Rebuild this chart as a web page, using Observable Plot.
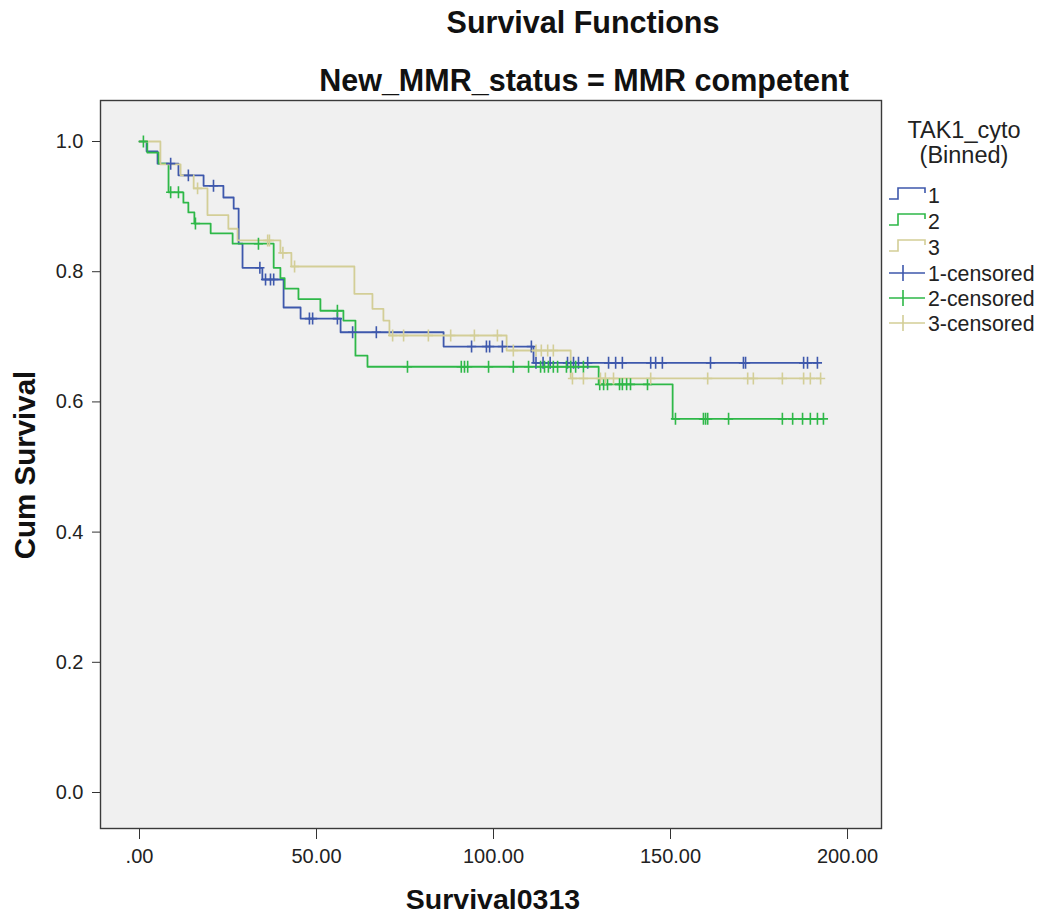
<!DOCTYPE html>
<html>
<head>
<meta charset="utf-8">
<script src="https://cdn.jsdelivr.net/npm/d3@7"></script>
<script src="https://cdn.jsdelivr.net/npm/@observablehq/plot@0.6"></script>
<style>
  html, body { margin: 0; padding: 0; background: #ffffff; }
  #wrap { position: relative; width: 1044px; height: 916px; overflow: hidden; }
  #wrap svg { position: absolute; left: 0; top: 0; }
</style>
</head>
<body>
<div id="wrap"></div>
<script>
// ---------- Data ----------
const groups = ["1", "2", "3"];
const groupColors = ["#3e58ac", "#2eb848", "#d3ce97"];

// Group 1 (blue): step times and survival after each step
const times1 = [0, 2.0, 5.1, 11.0, 18.1, 23.7, 26.6, 28.0, 29.1, 34.7, 40.7, 45.5, 56.8, 85.9, 111.3];
const surv1  = [1.0, 0.985, 0.966, 0.948, 0.932, 0.914, 0.897, 0.843, 0.806, 0.788, 0.745, 0.728, 0.707, 0.685, 0.660];
const end1 = 191.5;
const censored1 = [8.8, 13.8, 20.9, 34.0, 35.6, 37.0, 37.9, 48.0, 48.9, 55.9, 60.2, 66.9, 93.8, 98.0, 98.9, 102.5, 110.7,
  112.0, 114.0, 116.0, 120.9, 122.6, 124.0, 126.6, 132.5, 134.5, 136.4, 144.4, 145.8, 147.7, 161.3, 170.6, 171.2,
  187.6, 188.7, 191.5];

// Group 2 (green)
const times2 = [0, 2.2, 5.4, 8.2, 12.4, 13.8, 15.5, 20.1, 26.3, 37.9, 39.8, 41.0, 44.9, 51.1, 57.6, 61.0, 64.4, 129.7, 150.6];
const surv2  = [1.0, 0.983, 0.966, 0.922, 0.906, 0.891, 0.874, 0.859, 0.843, 0.806, 0.790, 0.774, 0.758, 0.740, 0.725, 0.671, 0.654, 0.627, 0.574];
const end2 = 193.2;
const censored2 = [1.1, 8.8, 11.0, 15.8, 33.6, 55.9, 75.7, 90.9, 91.8, 92.7, 98.6, 105.6, 109.9, 113.3, 114.4, 115.5,
  116.9, 118.1, 120.6, 121.8, 123.2, 125.4, 130.0, 131.1, 132.2, 135.6, 136.4, 137.6, 138.7, 143.5, 151.4, 159.3,
  159.9, 160.5, 166.4, 181.6, 184.5, 187.3, 189.5, 191.5, 193.2];

// Group 3 (tan)
const times3 = [0, 5.9, 11.6, 15.3, 19.2, 25.1, 27.7, 39.8, 42.9, 60.7, 65.8, 68.9, 70.6, 103.7, 121.8];
const surv3  = [1.0, 0.965, 0.948, 0.928, 0.887, 0.866, 0.848, 0.829, 0.808, 0.766, 0.743, 0.725, 0.702, 0.679, 0.636];
const end3 = 192.4;
const censored3 = [16.4, 36.2, 36.7, 40.5, 43.8, 71.5, 74.6, 81.6, 87.9, 94.6, 101.1, 105.6, 112.0, 113.5, 115.3,
  116.9, 122.3, 125.4, 130.2, 131.6, 133.9, 144.4, 160.5, 171.8, 173.4, 181.6, 187.6, 189.5, 192.4];

const xTicks = [0, 50, 100, 150, 200];
const yTicks = [0, 0.2, 0.4, 0.6, 0.8, 1.0];
const legendTitle = ["TAK1_cyto", "(Binned)"];
const legendLabels = ["1", "2", "3", "1-censored", "2-censored", "3-censored"];
const titleText = "Survival Functions";
const subtitleText = "New_MMR_status = MMR competent";
const xTitle = "Survival0313";
const yTitle = "Cum Survival";

// ---------- Build tables ----------
const series = [
  {g: "1", times: times1, surv: surv1, end: end1, cens: censored1},
  {g: "2", times: times2, surv: surv2, end: end2, cens: censored2},
  {g: "3", times: times3, surv: surv3, end: end3, cens: censored3}
];
function survAt(s, t) {
  let v = s.surv[0];
  for (let i = 0; i < s.times.length; i++) if (s.times[i] <= t) v = s.surv[i];
  return v;
}
const lineData = [];
const censData = [];
for (const s of series) {
  s.times.forEach((t, i) => lineData.push({g: s.g, t, s: s.surv[i]}));
  lineData.push({g: s.g, t: s.end, s: s.surv[s.surv.length - 1]});
  s.cens.forEach(t => censData.push({g: s.g, t, s: survAt(s, t)}));
}

// custom "+" symbol (thin cross like SPSS censor marks)
const crossSymbol = {
  draw(ctx, size) {
    const r = Math.sqrt(size / Math.PI);
    ctx.moveTo(-r, 0); ctx.lineTo(r, 0);
    ctx.moveTo(0, -r * 1.3); ctx.lineTo(0, r * 1.3);
  }
};

const FONT = "'Liberation Sans', Arial, sans-serif";
const fmtX = d => d === 0 ? ".00" : d.toFixed(2);

const chart = Plot.plot({
  width: 1044,
  height: 916,
  marginLeft: 100,
  marginRight: 163,
  marginTop: 100,
  marginBottom: 88,
  style: {fontFamily: FONT, background: "transparent", color: "#222"},
  x: {domain: [-11.02, 209.6]},
  y: {domain: [-0.0553, 1.063]},
  color: {domain: groups, range: groupColors},
  marks: [
    Plot.frame({fill: "#f0f0f0", stroke: null}),
    Plot.axisX({ticks: xTicks, tickFormat: fmtX, tickSize: 11, tickPadding: 9, fontSize: 20, label: null, stroke: "#333"}),
    Plot.axisY({ticks: yTicks, tickFormat: d => d.toFixed(1), tickSize: 8, tickPadding: 9, fontSize: 20, label: null, stroke: "#333"}),
    Plot.line(lineData, {x: "t", y: "s", z: "g", stroke: "g", curve: "step-after", strokeWidth: 1.8}),
    Plot.dot(censData, {x: "t", y: "s", stroke: "g", fill: "none", symbol: crossSymbol, r: 4.6, strokeWidth: 1.6}),
    Plot.frame({stroke: "#3a3a3a", strokeWidth: 1.4})
  ]
});
document.getElementById("wrap").appendChild(chart);

// ---------- Titles, axis titles and legend (overlay) ----------
const ov = d3.select("#wrap").append("svg")
  .attr("width", 1044).attr("height", 916)
  .style("pointer-events", "none")
  .style("font-family", FONT);

ov.append("text").attr("x", 583).attr("y", 33).attr("text-anchor", "middle")
  .attr("font-size", 30.5).attr("font-weight", "bold").attr("fill", "#111").text(titleText);
ov.append("text").attr("x", 584).attr("y", 91).attr("text-anchor", "middle")
  .attr("font-size", 30.5).attr("font-weight", "bold").attr("fill", "#111").text(subtitleText);
ov.append("text").attr("transform", "translate(35,465) rotate(-90)").attr("text-anchor", "middle")
  .attr("font-size", 29.5).attr("font-weight", "bold").attr("fill", "#111").text(yTitle);
ov.append("text").attr("x", 493).attr("y", 909).attr("text-anchor", "middle")
  .attr("font-size", 28.5).attr("font-weight", "bold").attr("fill", "#111").text(xTitle);

// legend
const lg = ov.append("g");
lg.append("text").attr("x", 964).attr("y", 138).attr("text-anchor", "middle")
  .attr("font-size", 23.5).attr("fill", "#222").text(legendTitle[0]);
lg.append("text").attr("x", 964).attr("y", 163).attr("text-anchor", "middle")
  .attr("font-size", 23.5).attr("fill", "#222").text(legendTitle[1]);
const rowY = [195, 221, 247, 273, 298, 323];
legendLabels.forEach((lab, i) => {
  const yc = rowY[i];
  const col = groupColors[i % 3];
  if (i < 3) {
    lg.append("path").attr("d", `M889,${yc + 4}H898V${yc - 7}H925V${yc - 2}`)
      .attr("fill", "none").attr("stroke", col).attr("stroke-width", 1.6);
  } else {
    lg.append("path").attr("d", `M889,${yc}H925M903,${yc - 8}V${yc + 8}`)
      .attr("fill", "none").attr("stroke", col).attr("stroke-width", 1.6);
  }
  lg.append("text").attr("x", 928).attr("y", yc + 7.5).attr("font-size", 21.3).attr("fill", "#222").text(lab);
});
</script>
</body>
</html>
